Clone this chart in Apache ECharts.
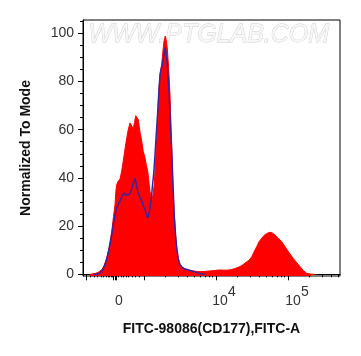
<!DOCTYPE html>
<html>
<head>
<meta charset="utf-8">
<script src="https://cdn.jsdelivr.net/npm/echarts@6/dist/echarts.min.js"></script>
<style>
html,body{margin:0;padding:0;background:#fff;}
#c{width:361px;height:356px;}
</style>
</head>
<body>
<div id="c"></div>
<script>
// X values are display channels (0..1028) of the biexponential FITC-A axis.
var redX = [28,48,60,75,84,95,104,115,122,128,132,135,140,148,155,161,168,175,181,188,195,201,206,211,216,221,228,235,241,248,254,259,264,268,275,280,285,290,295,300,304,309,315,319,324,329,333,337,343,348,353,357,361,365,370,375,381,388,398,408,428,448,468,488,508,528,548,568,588,608,628,640,655,664,675,684,695,704,715,726,737,746,755,768,781,795,808,824,841,855,868,881,895,908,928];
var redY = [0,0.3,0.8,1.9,3.5,6.8,11,17.8,24,29,35,37.2,38.5,39.5,43,47,52,56.6,60,62.8,62.4,60.5,63,65.8,65.5,64.2,59,55.2,51,48.3,45,42.7,38,34.4,30.3,33,37.2,46,56.6,68,77.3,83,87,92,96.7,98.8,97,93.9,85,74.5,58,44,33,24.7,16.5,10.9,6.5,4,2.8,2.2,1.6,1.3,1.1,1.2,1.4,1.6,1.8,1.7,1.8,2.4,3.2,4,5.2,5.8,7.3,9.3,11.5,13.5,15,16.3,17,17.4,17.3,16.3,15,13.5,11.5,9,6.6,4.8,3.2,1.6,0.4,0.1,0];

var blueX = [40,56,68,78,88,98,108,115,121,128,135,141,148,156,165,172,179,185,192,200,208,213,219,227,235,241,248,253,259,264,268,273,277,283,288,293,299,303,308,313,317,323,328,331,335,339,344,349,355,360,365,370,375,381,388,396,408,420,432,448,460,472,488];
var blueY = [0,0.1,0.5,1.8,4,7.5,12.3,16.5,20.6,24.5,27.5,29.2,30.3,32.5,33.7,32.8,32.4,33.2,34.4,37.5,39.7,37.5,34.4,32,30.3,28.5,26.8,25,23.4,25,27.5,31,35.8,42,49.6,58,67.6,75,82.8,85.5,87,90.5,93.9,92.5,89.8,84,75.9,64,51,37,24.7,16.5,10.9,6.5,4,3,2.2,1.9,1.5,1,0.5,0.1,0];

// Axis ticks / labels
var xMajorTicks = [12,122,128,134,244,532,820];
var xLinearMinorTicks = [28,44,57,71,81,91,99,105,112,117,140,151,161,171,181,195,208,225];
var xDecadeStarts = [244,532,820];
var xDecadeWidth = 288;
var xLabelValues = [144,564,856];
var xLabelTexts = ['{b|0}','{b|10}{sup|4}','{b|10}{sup|5}'];
var yMajorTicks = [0,20,40,60,80,100];
var yMinorTicks = [5,10,15,25,30,35,45,50,55,65,70,75,85,90,95,105];

var xMin = 0, xMax = 1028;
var xMinorTicks = xLinearMinorTicks.slice();
xDecadeStarts.forEach(function(d){
  for (var k = 2; k <= 9; k++) {
    var v = d + xDecadeWidth * Math.log10(k);
    if (v < xMax) xMinorTicks.push(v);
  }
});

function pairs(xs, ys){ return xs.map(function(x,i){ return [x, ys[i]]; }); }

var labelFont = 'Liberation Sans, Arial, sans-serif';
var chart = echarts.init(document.getElementById('c'), null, {renderer:'canvas'});
chart.setOption({
  animation: false,
  backgroundColor: '#fff',
  grid: {left: 83, right: 21, top: 20, bottom: 80, show: true, borderColor: '#000', borderWidth: 1, backgroundColor: 'transparent'},
  xAxis: [{
    type: 'value', min: xMin, max: xMax, position: 'bottom',
    name: 'FITC-98086(CD177),FITC-A', nameLocation: 'middle', nameGap: 46,
    nameTextStyle: {fontFamily: labelFont, fontWeight: 'bold', fontSize: 14, color: '#111'},
    axisLine: {show: true, lineStyle: {color: '#000', width: 1}},
    axisTick: {show: true, length: 6, lineStyle: {color: '#000'}, customValues: xMajorTicks},
    axisLabel: {show: true, customValues: xLabelValues, margin: 9, fontFamily: labelFont, fontSize: 14, color: '#333',
      formatter: function(v){ var i = xLabelValues.indexOf(v); return i >= 0 ? xLabelTexts[i] : ''; },
      rich: {
        b: {fontFamily: labelFont, fontSize: 14, color: '#333', lineHeight: 23, verticalAlign: 'bottom'},
        sup: {fontFamily: labelFont, fontSize: 14, color: '#333', lineHeight: 14, verticalAlign: 'top'}
      }},
    splitLine: {show: false}
  },{
    type: 'value', min: xMin, max: xMax, position: 'bottom',
    axisLine: {show: false},
    axisTick: {show: true, length: 3, lineStyle: {color: '#000'}, customValues: xMinorTicks},
    axisLabel: {show: false},
    splitLine: {show: false}
  }],
  yAxis: [{
    type: 'value', min: -0.7, max: 105.5, position: 'left',
    name: 'Normalized To Mode', nameLocation: 'middle', nameGap: 50, nameRotate: 90,
    nameTextStyle: {fontFamily: labelFont, fontWeight: 'bold', fontSize: 14, color: '#111'},
    axisLine: {show: true, lineStyle: {color: '#000', width: 1}},
    axisTick: {show: true, length: 5, lineStyle: {color: '#000'}, customValues: yMajorTicks},
    axisLabel: {show: true, customValues: yMajorTicks, margin: 9, fontFamily: labelFont, fontSize: 14, color: '#333'},
    splitLine: {show: false}
  },{
    type: 'value', min: -0.7, max: 105.5, position: 'left',
    axisLine: {show: false},
    axisTick: {show: true, length: 3, lineStyle: {color: '#000'}, customValues: yMinorTicks},
    axisLabel: {show: false},
    splitLine: {show: false}
  }],
  graphic: [{
    type: 'text', left: 88, top: 22, z: 0, silent: true,
    style: {text: 'WWW.PTGLAB.COM', font: 'italic 25px Liberation Sans, Arial, sans-serif', fill: '#f7f7f7', stroke: '#cccccc', lineWidth: 0.8}
  }],
  series: [{
    type: 'line', name: 'FITC', xAxisIndex: 0, yAxisIndex: 0,
    data: pairs(redX, redY), showSymbol: false, symbol: 'none', smooth: false,
    lineStyle: {color: '#ff0000', width: 1},
    areaStyle: {color: '#ff0000', opacity: 1, origin: 'start'},
    z: 3
  },{
    type: 'line', name: 'Control', xAxisIndex: 0, yAxisIndex: 0,
    data: pairs(blueX, blueY), showSymbol: false, symbol: 'none', smooth: false,
    lineStyle: {color: '#3a22a0', width: 1.5},
    z: 4
  }]
});
</script>
</body>
</html>
